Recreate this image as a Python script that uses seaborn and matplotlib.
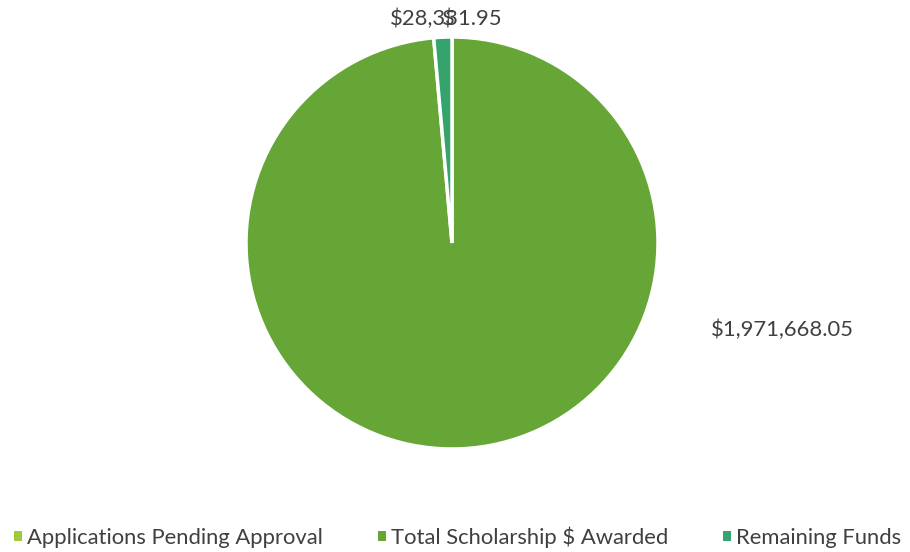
import matplotlib
matplotlib.use("Agg")
import matplotlib.pyplot as plt
from matplotlib.patches import Patch
import seaborn as sns

categories = ["Applications Pending Approval", "Total Scholarship $ Awarded", "Remaining Funds"]
values = [0.0, 1971668.05, 28331.95]
labels = ["$", "$1,971,668.05", "$28,331.95"]
colors = ["#A2C93A", "#65A637", "#34A46C"]

sns.set_theme(style="white")
plt.rcParams['font.family'] = ['Lato', 'DejaVu Sans']

W, H = 910, 552
fig = plt.figure(figsize=(W / 100, H / 100), dpi=100)
ax = fig.add_axes([0, 0, 1, 1])

cx, cy, r = 452, H - 243, 206
wedges, _ = ax.pie(values, colors=colors, startangle=90, counterclock=False,
                   center=(cx, cy), radius=r, frame=True,
                   wedgeprops=dict(edgecolor="white", linewidth=2.5))
ax.set_xlim(0, W)
ax.set_ylim(0, H)
ax.set_aspect("equal")
ax.axis("off")

fs = 15.8
txt = dict(color="#404040", fontsize=fs, va="center")
ax.text(390, H - 19, labels[2], ha="left", **txt)
ax.text(448, H - 19, labels[0], ha="center", **txt)
ax.text(782, H - 330, labels[1], ha="center", **txt)

handles = [Patch(facecolor=c, edgecolor="none") for c in colors]
leg = fig.legend(handles, categories, loc="center", bbox_to_anchor=(0.503, 1 - 537 / H),
                 ncol=3, frameon=False, fontsize=fs, handlelength=0.35, handleheight=0.35,
                 handletextpad=0.25, columnspacing=2.5, borderaxespad=0, borderpad=0)
for t in leg.get_texts():
    t.set_color("#404040")

fig.savefig("out.png", dpi=100)
